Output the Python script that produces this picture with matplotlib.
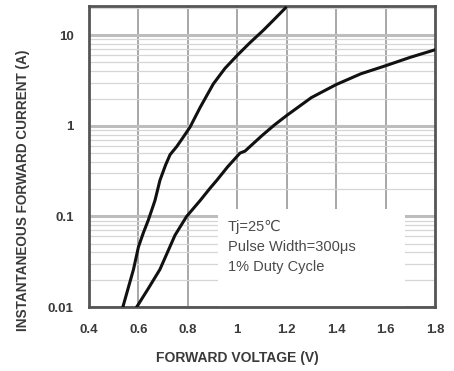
import matplotlib
matplotlib.use("Agg")
import matplotlib.pyplot as plt
from matplotlib.patches import Rectangle

# Curve 1 (steeper)
v1 = [0.537, 0.58, 0.60, 0.62, 0.64, 0.667, 0.687, 0.71, 0.728, 0.755, 0.78, 0.809,
      0.85, 0.903, 0.95, 1.00, 1.05, 1.105, 1.15, 1.195]
i1 = [0.01, 0.026, 0.046, 0.066, 0.091, 0.15, 0.25, 0.37, 0.48, 0.59, 0.74, 0.97,
      1.6, 2.9, 4.3, 6.0, 8.2, 11.3, 15.0, 20.0]
# Curve 2
v2 = [0.593, 0.64, 0.687, 0.748, 0.795, 0.85, 0.89, 0.917, 0.96, 1.011, 1.031,
      1.10, 1.15, 1.20, 1.30, 1.40, 1.50, 1.60, 1.70, 1.80]
i2 = [0.01, 0.016, 0.026, 0.062, 0.10, 0.15, 0.205, 0.25, 0.35, 0.50, 0.525,
      0.78, 1.02, 1.30, 2.05, 2.85, 3.75, 4.6, 5.7, 6.9]

xticks = [0.4, 0.6, 0.8, 1.0, 1.2, 1.4, 1.6, 1.8]
xticklabels = ["0.4", "0.6", "0.8", "1", "1.2", "1.4", "1.6", "1.8"]
yticks = [0.01, 0.1, 1, 10]
yticklabels = ["0.01", "0.1", "1", "10"]
note_lines = ["Tj=25\u2103", "Pulse Width=300\u03bcs", "1% Duty Cycle"]
xlabel = "FORWARD VOLTAGE (V)"
ylabel = "INSTANTANEOUS FORWARD CURRENT (A)"

plt.rcParams['font.family'] = ['Liberation Sans', 'DejaVu Sans']
W, H = 454, 371
fig = plt.figure(figsize=(W / 100, H / 100), dpi=100)
ax = fig.add_axes([89 / W, 1 - 307 / H, 346 / W, 301 / H])
ax.set_yscale('log')
ax.set_xlim(0.4, 1.8)
ax.set_ylim(0.01, 21)

# grid
for x in xticks[1:-1]:
    ax.axvline(x, color='#a0a0a0', lw=1.3, zorder=1)
for d in [0.01, 0.1, 1, 10]:
    ax.axhline(d, color='#bdbdbd', lw=2.2, zorder=1)
    for k in range(2, 10):
        y = d * k
        if y < 21:
            ax.axhline(y, color='#d6d6d6', lw=0.9, zorder=1)

# white note box
ax.add_patch(Rectangle((0.92, 0.0082), 0.76, 0.112, facecolor='white',
                       edgecolor='none', zorder=2))
for k, line in enumerate(note_lines):
    fig.text(228 / W, 1 - (227 + 20 * k) / H, line, fontsize=10.5, color='#4a4a4a',
             va='center', ha='left', zorder=3, family=['Liberation Sans', 'DejaVu Sans'])

ax.plot(v1, i1, color='#111111', lw=2.2, zorder=4, solid_joinstyle='round')
ax.plot(v2, i2, color='#111111', lw=2.2, zorder=4, solid_joinstyle='round')

ax.set_xticks(xticks)
ax.set_xticklabels(xticklabels)
ax.set_yticks(yticks)
ax.set_yticklabels(yticklabels)
ax.minorticks_off()
ax.tick_params(length=0, labelsize=9.5, labelcolor='#3a3a3a')
ax.tick_params(axis='x', pad=12)
ax.tick_params(axis='y', pad=11)
for lab in ax.get_xticklabels() + ax.get_yticklabels():
    lab.set_fontweight('bold')

for s in ax.spines.values():
    s.set_color('#555555')
    s.set_linewidth(2.0)

fig.text(237 / W, 1 - 358 / H, xlabel, fontsize=10, fontweight='bold', color='#3a3a3a',
         ha='center', va='center')
fig.text(23 / W, 1 - 190 / H, ylabel, fontsize=9.8, fontweight='bold', color='#3a3a3a',
         ha='center', va='center', rotation=90)

fig.savefig("out.png", dpi=100)
